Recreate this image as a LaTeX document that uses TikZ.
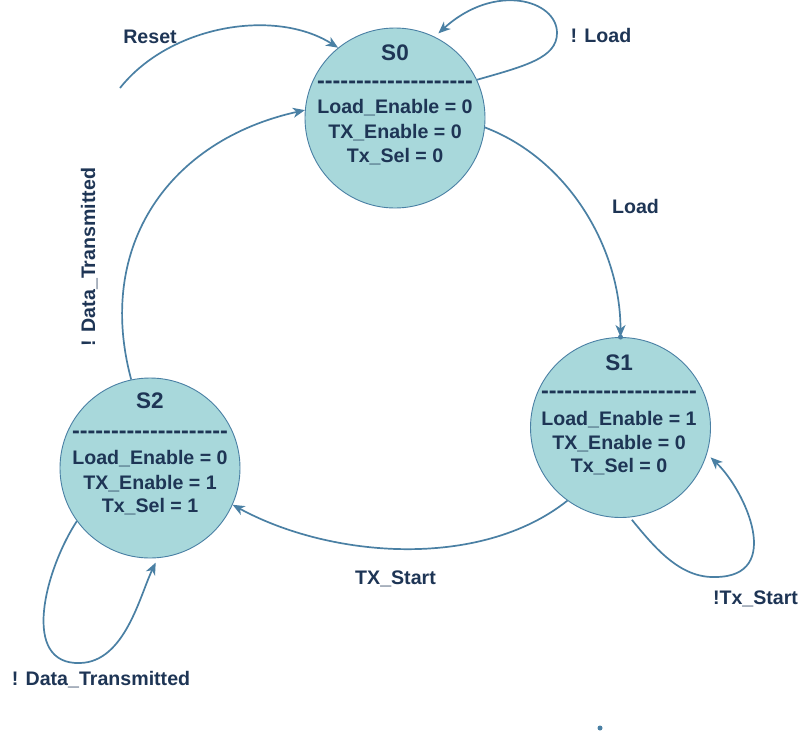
\documentclass[tikz,border=0pt]{standalone}
\usepackage{fontspec}
\setmainfont{Liberation Sans}
\usetikzlibrary{arrows.meta}
\definecolor{fillc}{HTML}{A8D8DB}
\definecolor{edgec}{HTML}{4A80A4}
\definecolor{txtc}{HTML}{1E3555}
\newcommand\dsh{-\kern0pt}
\newcommand\dashrow{\dsh\dsh\dsh\dsh\dsh\dsh\dsh\dsh\dsh\dsh\dsh\dsh\dsh\dsh\dsh\dsh\dsh\dsh\dsh\dsh}
\begin{document}
\begin{tikzpicture}[x=1pt,y=-1pt,
  state/.style={circle, draw=edgec, line width=0.9pt, fill=fillc, minimum size=180pt, inner sep=0pt},
  ttl/.style={anchor=base, text=txtc, font=\bfseries\fontsize{22.5}{26}\selectfont, inner sep=0pt},
  body/.style={anchor=base, text=txtc, font=\bfseries\fontsize{19.6}{23}\selectfont, inner sep=0pt},
  dashline/.style={anchor=base, text=txtc, font=\bfseries\fontsize{23.4}{26}\selectfont, inner sep=0pt},
  lbl/.style={body},
  conn/.style={draw=edgec, line width=1.7pt, -{Stealth[length=12pt,width=10pt,inset=3.5pt]}},
  dotc/.style={fill=edgec}
]
\path[use as bounding box, fill=white] (0,0) rectangle (810,739);

% states
\node[state] (s0) at (395,118) {};
\node[state] (s1) at (620.5,427.5) {};
\node[state] (s2) at (150,468) {};

% S0 text
\node[ttl] (s0t) at (395,60) {S0};
\node[dashline] (s0d) at (395,88.7) {\dashrow};
\node[body] (s0a) at (395,113) {Load\_Enable = 0};
\node[body] (s0b) at (395,138) {TX\_Enable = 0};
\node[body] (s0c) at (395,162) {Tx\_Sel = 0};

% S1 text
\node[ttl] (s1t) at (619,370) {S1};
\node[dashline] (s1d) at (619,398.7) {\dashrow};
\node[body] (s1a) at (619,425) {Load\_Enable = 1};
\node[body] (s1b) at (619,449) {TX\_Enable = 0};
\node[body] (s1c) at (619,472) {Tx\_Sel = 0};

% S2 text
\node[ttl] (s2t) at (150,408) {S2};
\node[dashline] (s2d) at (150,438.7) {\dashrow};
\node[body] (s2a) at (150,464) {Load\_Enable = 0};
\node[body] (s2b) at (150,489) {TX\_Enable = 1};
\node[body] (s2c) at (150,512) {Tx\_Sel = 1};

% helper coordinates
\coordinate (rst) at (120,88);
\coordinate (l0) at (557,33);
\coordinate (l1) at (715,577);
\coordinate (l2) at (80,663);
\coordinate (stray) at (600,728);

% connectors
\draw[conn] (rst) .. controls (170,25) and (275,8) .. (s0.129);
\draw[conn, shorten >=5pt] (s0.25) .. controls (525,66) and (557,58) .. (l0)
   .. controls (557,0) and (495,-18) .. (s0.64);
\draw[conn] (s0.-6) .. controls (570,160) and (620.5,250) .. (s1.north);
\fill[dotc] (s1.north) circle (2.5pt);
\draw[conn, shorten <=3pt, shorten >=5pt] (s1.-84) .. controls (655,548) and (680,578) .. (l1)
   .. controls (785,577) and (745,490) .. (s1.-17);
\draw[conn] (s1.-126) .. controls (480,570) and (330,558) .. (s2.-24);
\draw[conn, shorten >=5pt] (s2.-144) .. controls (45,570) and (20,665) .. (l2)
   .. controls (125,662) and (140,595) .. (s2.-85);
\draw[conn] (s2.102) .. controls (95,245) and (170,140) .. (s0.175);
\fill[dotc] (stray) circle (2.5pt);

% labels
\node[lbl] (lreset) at (150,43) {Reset};
\node[lbl] (lnload) at (601,42) {! Load};
\node[lbl] (lload) at (635.5,213) {Load};
\node[lbl] (ltx) at (395.5,584) {TX\_Start};
\node[lbl] (lntx) at (755.5,604) {!Tx\_Start};
\node[lbl] (lndt) at (101,685) {! Data\_Transmitted};
\node[lbl, rotate=90] (lndt2) at (95,257) {! Data\_Transmitted};
\end{tikzpicture}
\end{document}
